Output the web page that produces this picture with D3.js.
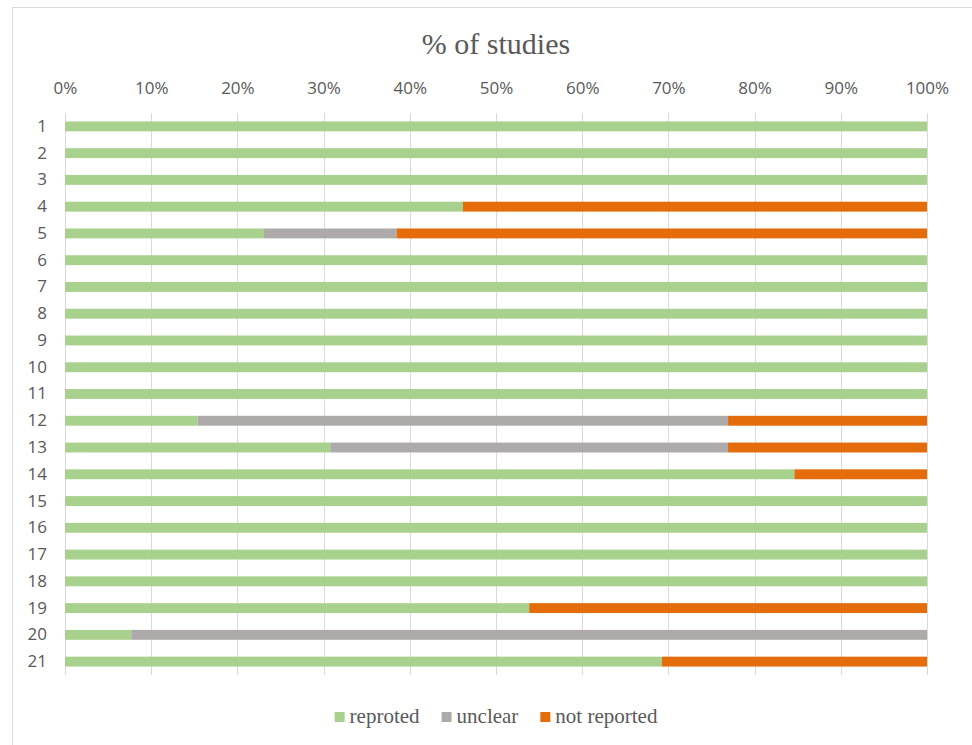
<!DOCTYPE html>
<html>
<head>
<meta charset="utf-8">
<script src="https://cdn.jsdelivr.net/npm/d3@7"></script>
<style>
  html, body { margin: 0; padding: 0; background: #ffffff; }
  svg { display: block; }
</style>
</head>
<body>
<svg id="chart" width="972" height="745"></svg>
<script>
// ---- data ----
const categories = ["1","2","3","4","5","6","7","8","9","10","11","12","13","14","15","16","17","18","19","20","21"];
const seriesNames = ["reproted", "unclear", "not reported"];
const reproted    = [100, 100, 100, 46.15, 23.08, 100, 100, 100, 100, 100, 100, 15.38, 30.77, 84.62, 100, 100, 100, 100, 53.85, 7.69, 69.23];
const unclear     = [0, 0, 0, 0, 15.38, 0, 0, 0, 0, 0, 0, 61.54, 46.15, 0, 0, 0, 0, 0, 0, 92.31, 0];
const notReported = [0, 0, 0, 53.85, 61.54, 0, 0, 0, 0, 0, 0, 23.08, 23.08, 15.38, 0, 0, 0, 0, 46.15, 0, 30.77];
const tickValues  = [0, 10, 20, 30, 40, 50, 60, 70, 80, 90, 100];
const titleText   = "% of studies";

const colors = ["#a9d18e", "#aeaaaa", "#e46c0a"];
const SERIF = "Liberation Serif";
const SANS = "Open Sans";

// ---- build table ----
const table = categories.map((c, i) => ({
  cat: c,
  "reproted": reproted[i],
  "unclear": unclear[i],
  "not reported": notReported[i]
}));
const stack = d3.stack().keys(seriesNames)(table);

const svg = d3.select("#chart");

// chart border
svg.append("rect")
  .attr("x", 12.5).attr("y", 7.5)
  .attr("width", 980).attr("height", 760)
  .attr("fill", "#ffffff")
  .attr("stroke", "#d9d9d9").attr("stroke-width", 1);

const plotL = 65, plotR = 927, plotT = 113, plotB = 675;

const x = d3.scaleLinear().domain([0, 100]).range([plotL, plotR]);
const y = d3.scaleBand().domain(categories).range([plotT, plotB])
  .paddingInner(0.63).paddingOuter(0.315);

// gridlines
svg.append("g").selectAll("line")
  .data(tickValues).join("line")
  .attr("x1", d => Math.round(x(d)) + 0.5).attr("x2", d => Math.round(x(d)) + 0.5)
  .attr("y1", plotT).attr("y2", plotB)
  .attr("stroke", "#d9d9d9").attr("stroke-width", 1);

// bars
svg.append("g").selectAll("g")
  .data(stack).join("g")
  .attr("fill", (d, i) => colors[i])
  .selectAll("rect")
  .data(d => d).join("rect")
  .attr("x", d => x(d[0]))
  .attr("width", d => Math.max(0, x(d[1]) - x(d[0])))
  .attr("y", d => y(d.data.cat))
  .attr("height", y.bandwidth());

// top axis labels
const xAxis = d3.axisTop(x).tickValues(tickValues).tickFormat(d => d + "%").tickSize(0).tickPadding(0);
const gx = svg.append("g").attr("transform", "translate(0,94)").call(xAxis);
gx.attr("font-family", SANS).attr("font-size", 17);
gx.select(".domain").remove();
gx.selectAll("text").attr("dy", 0).attr("fill", "#595959");

// left category labels
const yAxis = d3.axisLeft(y).tickSize(0).tickPadding(0);
const gy = svg.append("g").attr("transform", "translate(47,0)").call(yAxis);
gy.attr("font-family", SANS).attr("font-size", 17);
gy.select(".domain").remove();
gy.selectAll("text").attr("fill", "#595959");

// title
svg.append("text")
  .attr("x", (plotL + plotR) / 2).attr("y", 53.5)
  .attr("text-anchor", "middle")
  .attr("fill", "#595959")
  .attr("font-family", SERIF)
  .attr("font-size", 30)
  .text(titleText);

// legend
const legend = svg.append("g");
let cx = 0;
seriesNames.forEach((name, i) => {
  const g = legend.append("g");
  g.append("rect").attr("x", 0).attr("y", -11).attr("width", 10).attr("height", 10).attr("fill", colors[i]);
  const t = g.append("text").attr("x", 15).attr("y", 0)
    .attr("fill", "#595959")
    .attr("font-family", SERIF)
    .attr("font-size", 21)
    .text(name);
  const w = 15 + t.node().getComputedTextLength();
  g.attr("transform", `translate(${cx},0)`);
  cx += w + 22;
});
const totalW = cx - 22;
legend.attr("transform", `translate(${(plotL + plotR) / 2 - totalW / 2},723)`);
</script>
</body>
</html>
